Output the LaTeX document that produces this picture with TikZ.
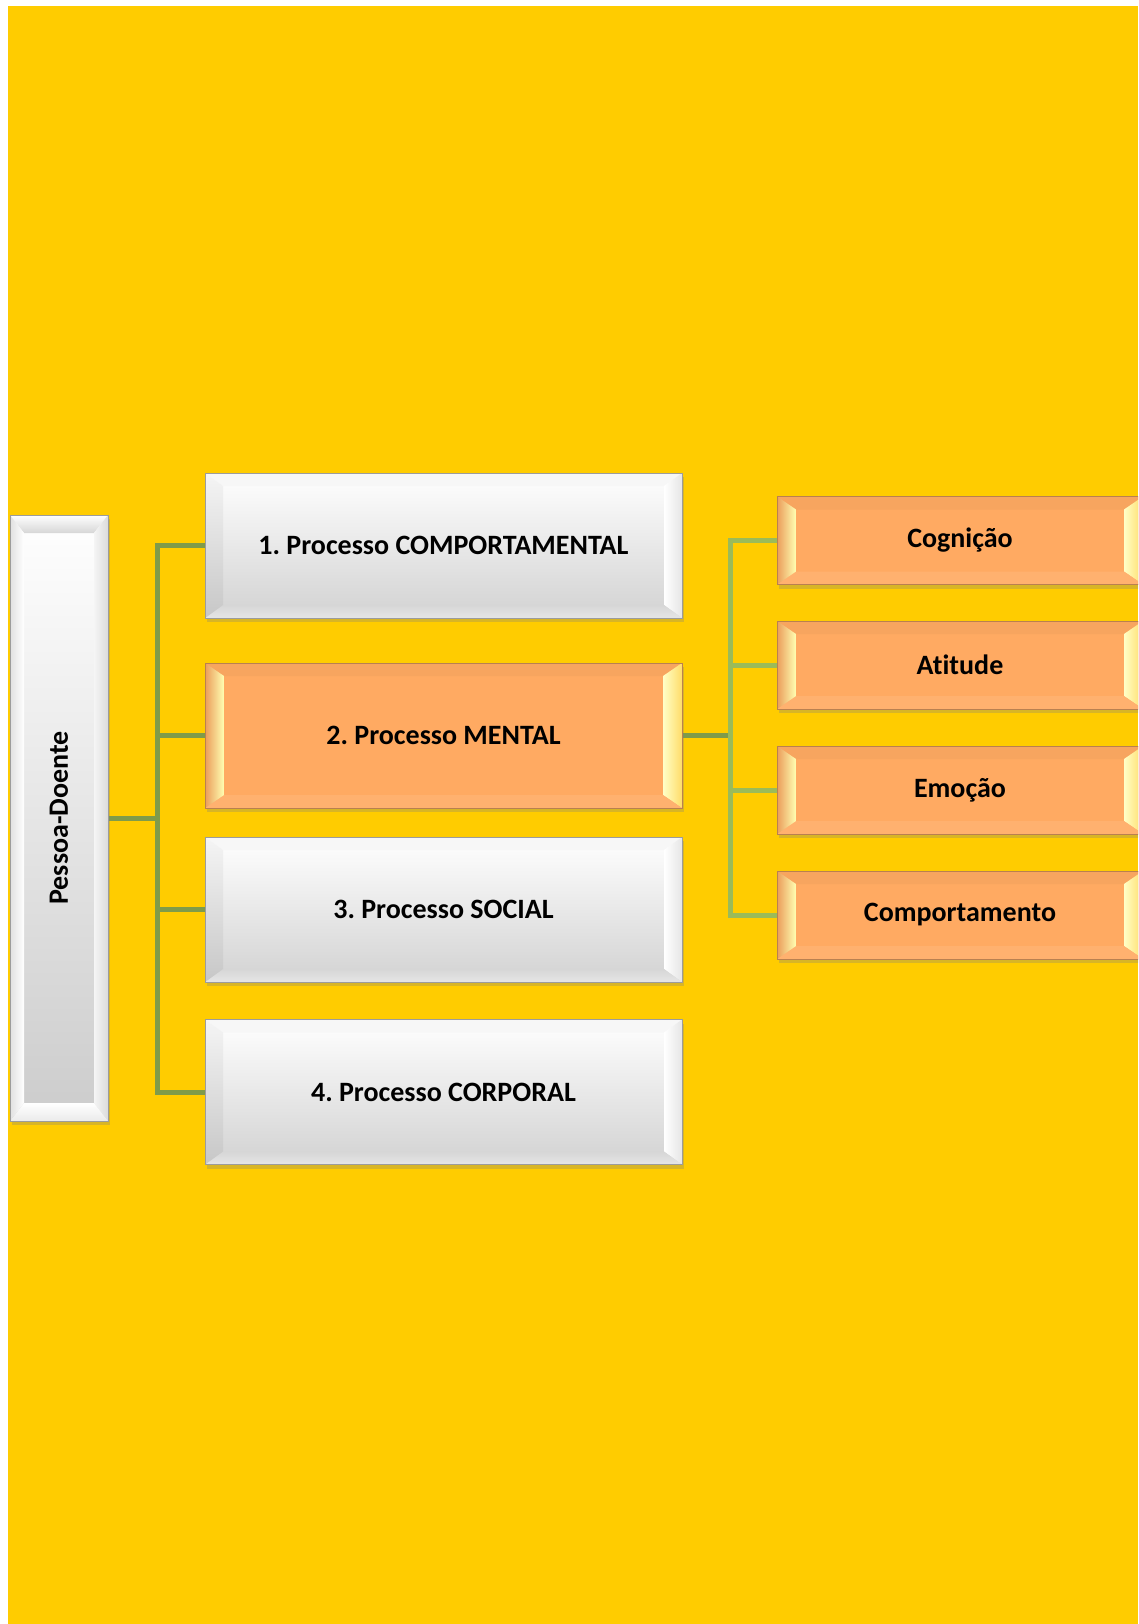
\documentclass[tikz,border=0pt]{standalone}
\usepackage{fontspec}
\setmainfont[Ligatures=NoCommon]{Carlito}
\usetikzlibrary{shadows}
\frenchspacing

\definecolor{pagebg}{HTML}{FFCC00}
\definecolor{silveredge}{HTML}{9C9C9C}
\definecolor{silverlow}{HTML}{D2D2D2}
\definecolor{orangeface}{HTML}{FFAA62}
\definecolor{orangeedge}{HTML}{B98050}
\definecolor{treedark}{HTML}{7F9B4A}
\definecolor{treelight}{HTML}{9BBB59}

\pgfdeclarelayer{paper}
\pgfdeclarelayer{wires}
\pgfsetlayers{paper,wires,main}

% four bevelled faces inside a node: #1 side width, #2 top/bottom width,
% #3 top, #4 right, #5 bottom, #6 left face options
\newcommand\bevelfaces[6]{%
  \coordinate (bvNW) at (path picture bounding box.north west);
  \coordinate (bvNE) at (path picture bounding box.north east);
  \coordinate (bvSW) at (path picture bounding box.south west);
  \coordinate (bvSE) at (path picture bounding box.south east);
  \coordinate (bvnw) at ([shift={(#1,-#2)}]bvNW);
  \coordinate (bvne) at ([shift={(-#1,-#2)}]bvNE);
  \coordinate (bvsw) at ([shift={(#1,#2)}]bvSW);
  \coordinate (bvse) at ([shift={(-#1,#2)}]bvSE);
  \path[#3] (bvNW) -- (bvNE) -- (bvne) -- (bvnw) -- cycle;
  \path[#4] (bvNE) -- (bvSE) -- (bvse) -- (bvne) -- cycle;
  \path[#5] (bvSE) -- (bvSW) -- (bvsw) -- (bvse) -- cycle;
  \path[#6] (bvSW) -- (bvNW) -- (bvnw) -- (bvsw) -- cycle;
}

\tikzset{
  boxbase/.style={rectangle, inner sep=0pt, line width=1pt, text=black,
    font=\bfseries\fontsize{28}{34}\selectfont,
    drop shadow={shadow xshift=1.5pt, shadow yshift=-4pt, opacity=0.3}},
  silverbox/.style={boxbase, draw=silveredge, top color=white, bottom color=silverlow,
    path picture={\bevelfaces{18pt}{13pt}
      {fill=white!97!black}
      {left color=white, right color=white!90!black}
      {top color=white!84!black, bottom color=white!90!black}
      {top color=white!96!black, bottom color=white!78!black}}},
  pillarbox/.style={boxbase, draw=silveredge,
    top color=white, middle color=white!98!black, bottom color=white!80!black,
    path picture={\bevelfaces{14pt}{18pt}
      {top color=white, bottom color=white!84!black}
      {left color=white!96!black, right color=white!86!black}
      {top color=white, bottom color=white!92!black}
      {left color=white!88!black, right color=white}}},
  orangebox/.style={boxbase, draw=orangeedge, fill=orangeface,
    path picture={\bevelfaces{19pt}{13pt}
      {fill=orangeface!97!black}
      {left color=yellow!22!white, right color=orangeface!55!yellow!75!white}
      {fill=orangeface!92!white}
      {left color=orangeface!92!black, right color=yellow!30!white}}},
  mainbox/.style={minimum width=477pt, minimum height=145pt},
  subbox/.style={orangebox, minimum width=366pt, minimum height=88pt},
  treeL/.style={draw=treedark, line width=5pt},
  treeR/.style={draw=treelight, line width=5pt},
}

\begin{document}
\begin{tikzpicture}[x=1pt, y=-1pt]
  \useasboundingbox (0,0) rectangle (1138,1624);
  % page and yellow sheet
  \begin{pgfonlayer}{paper}
    \fill[white] (0,0) rectangle (1138,1624);
    \fill[pagebg] (8,6) rectangle (1138,1624);
  \end{pgfonlayer}

  % bus positions of the two trees
  \coordinate (lbus) at (157,818);
  \coordinate (rbus) at (730,735.5);

  \begin{scope}
    \clip (0,0) rectangle (1138,1624);
    % boxes
    \node[pillarbox, minimum width=98pt, minimum height=606pt] (P) at (59,818) {};
    \node[rotate=90, font=\bfseries\fontsize{28}{34}\selectfont] (Plabel) at (P) {Pessoa-Doente};

    \node[silverbox, mainbox] (B1) at (443.5,545.5) {1. Processo COMPORTAMENTAL};
    \node[orangebox, mainbox] (B2) at (443.5,735.5) {2. Processo MENTAL};
    \node[silverbox, mainbox] (B3) at (443.5,909.5) {3. Processo SOCIAL};
    \node[silverbox, mainbox] (B4) at (443.5,1092) {4. Processo CORPORAL};

    \node[subbox] (C1) at (960,540.5) {Cognição};
    \node[subbox] (C2) at (960,665) {Atitude};
    \node[subbox] (C3) at (960,790) {Emoção};
    \node[subbox] (C4) at (960,915) {Comportamento};
  \end{scope}

  % connectors, drawn beneath the boxes
  \begin{pgfonlayer}{wires}
    \draw[treeL] (P.east) -- (P.east -| lbus);
    \draw[treeL] (B1.west) -- (B1.west -| lbus) -- (B4.west -| lbus) -- (B4.west);
    \draw[treeL] (B2.west) -- (B2.west -| lbus);
    \draw[treeL] (B3.west) -- (B3.west -| lbus);

    \draw[treeL] (B2.east) -- (B2.east -| rbus);
    \draw[treeR] (C1.west) -- (C1.west -| rbus) -- (C4.west -| rbus) -- (C4.west);
    \draw[treeR] (C2.west) -- (C2.west -| rbus);
    \draw[treeR] (C3.west) -- (C3.west -| rbus);
  \end{pgfonlayer}
\end{tikzpicture}
\end{document}
